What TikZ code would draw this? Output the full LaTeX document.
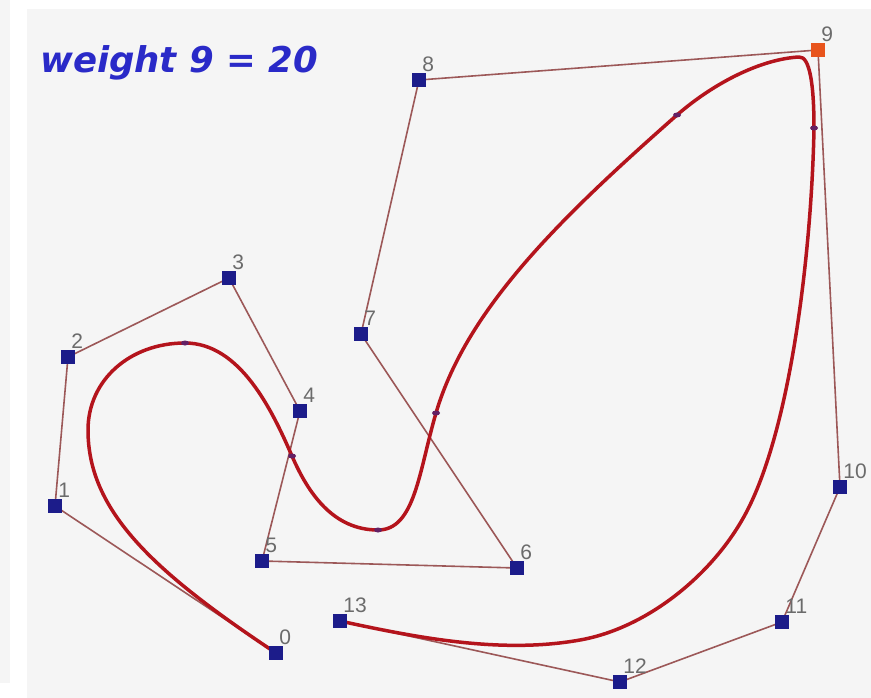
\documentclass[tikz,border=0pt]{standalone}
\usepackage{fontspec}
\setmainfont{Liberation Sans}
\newfontfamily\titlefont{DejaVu Sans}
\usetikzlibrary{shapes.geometric,backgrounds}

\definecolor{bgcol}{HTML}{F5F5F5}
\definecolor{ptcol}{HTML}{1C1C8A}
\definecolor{hotcol}{HTML}{E8541C}
\definecolor{polycol}{HTML}{9C5858}
\definecolor{curvecol}{HTML}{B4141C}
\definecolor{knotcol}{HTML}{642064}
\definecolor{titlecol}{HTML}{2A2AC8}

\begin{document}
\begin{tikzpicture}[
  x=1pt, y=-1pt,
  pt/.style   ={draw=none, fill=ptcol, minimum size=14pt, inner sep=0pt},
  hot/.style  ={pt, fill=hotcol},
  lbl/.style  ={font=\fontsize{21}{21}\selectfont, text=black!58, inner sep=0pt},
  poly/.style ={polycol, line width=1.6pt},
  curve/.style={curvecol, line width=3.5pt, line join=round},
  knot/.style ={fill=knotcol, draw=none, ellipse, minimum width=8pt, minimum height=5pt, inner sep=0pt},
]

\useasboundingbox (0,0) rectangle (871,698);

% ---------- Control points ----------
\foreach \i/\x/\y in {0/276/653, 1/55/506, 2/68/357, 3/229/278, 4/300/411,
                      5/262/561, 6/517/568, 7/361/334, 8/419/80,
                      10/840/487, 11/782/622, 12/620/682, 13/340/621}{
  \node[pt, label={[lbl, anchor=south west, xshift=-4pt, yshift=1pt]north east:\i}] (p\i) at (\x,\y) {};
}
\node[hot, label={[lbl, anchor=south west, xshift=-4pt, yshift=1pt]north east:9}] (p9) at (818,50) {};

% ---------- Title ----------
\node[anchor=base west, inner sep=0pt, text=titlecol,
      font=\fontsize{35.5}{36}\titlefont\bfseries\itshape] (title) at (40,73) {weight 9 = 20};

% knots on the curve
\coordinate (k1) at (185,343);
\coordinate (k2) at (292,456);
\coordinate (k3) at (378,530);
\coordinate (k4) at (436,413);
\coordinate (k5) at (677,115);
\coordinate (k6) at (814,128);

\begin{pgfonlayer}{background}
  % frame
  \fill[bgcol] (27,9) rectangle (871,698);
  \fill[black!4] (0,0) rectangle (10,683);

  % control polygon
  \foreach \i [evaluate=\i as \j using int(\i+1)] in {0,...,12}{
    \draw[poly] (p\i.center) -- (p\j.center);
  }

  % curve
  \draw[curve] (p0.center)
    .. controls (151,570) and (88,510) .. (88,430)
    .. controls (88,380) and (130,343) .. (k1)
    .. controls (240,343) and (272,410) .. (k2)
    .. controls (308,493) and (333,530) .. (k3)
    .. controls (415,530) and (419,471) .. (k4)
    .. controls (467,307) and (565,214) .. (k5)
    .. controls (715,82) and (762,59) .. (799,57)
    .. controls (810,56) and (814,86) .. (k6)
    .. controls (812,240) and (793,422) .. (747,511)
    .. controls (715,573) and (648,628) .. (580,640)
    .. controls (502,654) and (418,638) .. (p13.center);

  % knot marks
  \foreach \k in {1,...,6}{
    \node[knot] (km\k) at (k\k) {};
  }
\end{pgfonlayer}

\end{tikzpicture}
\end{document}
